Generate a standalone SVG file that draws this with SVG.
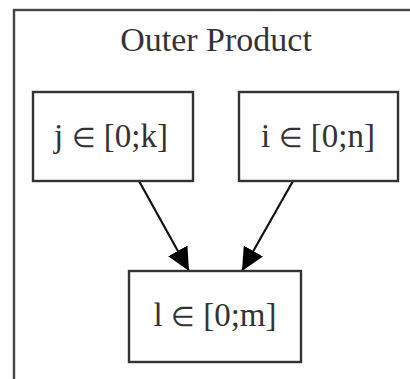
<svg xmlns="http://www.w3.org/2000/svg" width="410" height="379" viewBox="0 0 410 379">
<style>
.node rect{fill:#fff;stroke:#333;stroke-width:2.4}
text{font-family:"Liberation Serif","Times New Roman",serif;font-size:33px;fill:#333;text-anchor:middle}
.el{font-size:27px}
.edge{stroke:#111;stroke-width:2.2;fill:none}
</style>
<defs>
<marker id="ah" markerUnits="userSpaceOnUse" markerWidth="24" markerHeight="24" refX="23" refY="11" orient="auto">
<path d="M0,0 L23,11 L0,22 Z" fill="#000"/>
</marker>
</defs>
<rect width="410" height="379" fill="#fff"/>
<g id="cluster">
<rect x="14" y="10" width="420" height="400" fill="none" stroke="#444" stroke-width="2.4"/>
<text x="216" y="51" style="font-size:34px">Outer Product</text>
</g>
<g id="connectors">
<line class="edge" x1="139" y1="181" x2="189" y2="271" marker-end="url(#ah)"/>
<line class="edge" x1="293" y1="181" x2="242" y2="271" marker-end="url(#ah)"/>
</g>
<g id="node-j" class="node">
<rect x="33" y="92" width="160" height="89"/>
<text x="111" y="147">j <tspan class="el">∈</tspan> [0;k]</text>
</g>
<g id="node-i" class="node">
<rect x="239" y="92" width="159" height="89"/>
<text x="318" y="147">i <tspan class="el">∈</tspan> [0;n]</text>
</g>
<g id="node-l" class="node">
<rect x="129" y="271" width="172" height="91"/>
<text x="215" y="326">l <tspan class="el">∈</tspan> [0;m]</text>
</g>
</svg>
